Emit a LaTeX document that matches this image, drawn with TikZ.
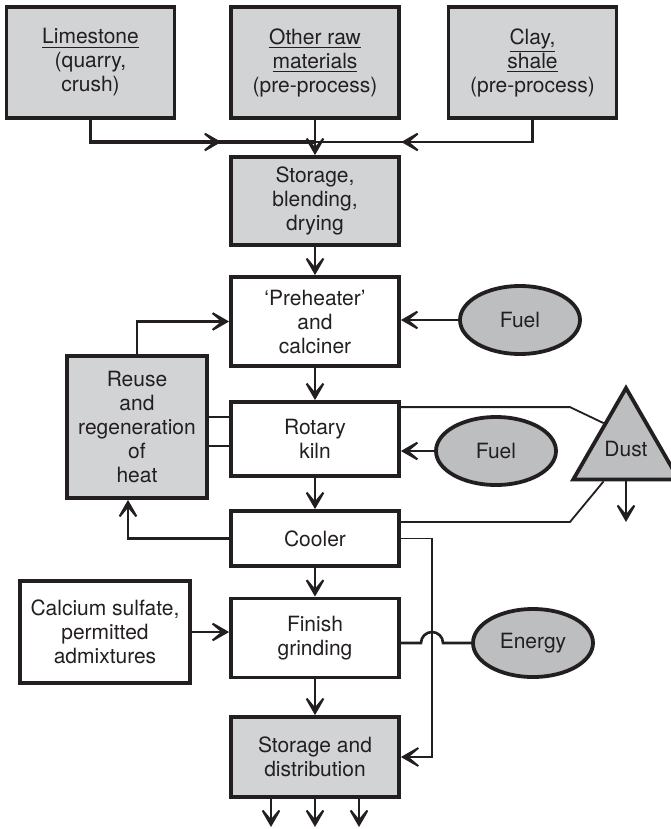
\documentclass[tikz,border=0pt]{standalone}
\usepackage{fontspec}
\setmainfont{TeX Gyre Heros}
\usepackage{tikz}
\usetikzlibrary{calc,arrows.meta,shapes.geometric,decorations.markings}
\tikzset{>={Stealth[length=13pt,width=15pt,inset=9pt]}}
\definecolor{boxgray}{HTML}{D1D3D4}
\definecolor{ovalgray}{HTML}{BCBEC0}
\definecolor{ink}{HTML}{231F20}

\begin{document}
\begin{tikzpicture}
  [
   x=0.5pt, y=-0.5pt, % 以像素为单位, y 向下
   every node/.style={font=\fontsize{10.5}{12}\selectfont, align=center, inner sep=2pt, text=ink},
   box/.style={draw=ink, line width=1.9pt, rectangle, minimum width=84pt},
   graybox/.style={box, fill=boxgray},
   oval/.style={draw=ink, line width=1.9pt, ellipse, fill=ovalgray, minimum width=60pt, minimum height=34pt, inner sep=0pt},
   flow/.style={draw=ink, line width=1.3pt, ->},
   link/.style={draw=ink, line width=1.3pt},
   thinlink/.style={draw=ink, line width=0.9pt},
   midarrow/.style={postaction={decorate}, decoration={markings, mark=at position #1 with {\arrow{>}}}}
  ]
  \useasboundingbox (0,0) rectangle (670,829);

  % 原料
  \node[graybox, minimum height=55.5pt] (lime)  at (90.5,62.5) {\underline{Limestone}\\(quarry,\\crush)};
  \node[graybox, minimum height=55.5pt] (other) at (315,62.5)  {\underline{Other raw}\\\underline{materials}\\(pre-process)};
  \node[graybox, minimum height=55.5pt] (clay)  at (532.5,62.5) {\underline{Clay,}\\\underline{shale}\\(pre-process)};

  % 主流程
  \node[graybox, minimum height=44pt]   (stor1) at (315,201)   {Storage,\\blending,\\drying};
  \node[box, minimum height=44.5pt]     (preh)  at (315,321.5) {‘Preheater’\\and\\calciner};
  \node[box, minimum height=37pt]       (kiln)  at (315,439)   {Rotary\\kiln};
  \node[box, minimum height=27.5pt]     (cool)  at (315,538.5) {Cooler};
  \node[box, minimum height=39.5pt]     (fin)   at (315,638)   {Finish\\grinding};
  \node[graybox, minimum height=40pt]   (stor2) at (315,757)   {Storage and\\distribution};

  \node[graybox, minimum width=70pt, minimum height=71pt] (reuse) at (137,427) {Reuse\\and\\regeneration\\of\\heat};
  \node[box, minimum width=85pt, minimum height=51pt]     (calc)  at (105,632) {Calcium sulfate,\\permitted\\admixtures};

  \node[oval] (fuel1)  at (520,320) {Fuel};
  \node[oval] (fuel2)  at (496,451) {Fuel};
  \node[oval] (energy) at (533,643) {Energy};
  \node[draw=ink, line width=1.9pt, fill=ovalgray, regular polygon, regular polygon sides=3,
        minimum size=57.7pt, inner sep=0pt] (dust) at (626,449) {Dust};

  % 汇合
  \coordinate (join) at (315,142);
  \draw[link, line width=1.6pt, midarrow=0.62] (lime.south) |- (join);
  \draw[link, midarrow=0.64] (clay.south) |- (join);

  \foreach \a/\b in {other/stor1, stor1/preh, preh/kiln, kiln/cool, cool/fin, fin/stor2}
    \draw[flow] (\a.south) -- (\b.north);

  \draw[flow] (fuel1.west) -- (fuel1.west -| preh.east);
  \draw[flow] (fuel2.west) -- (fuel2.west -| kiln.east);
  \draw[flow] (calc.east) -- (calc.east -| fin.west);

  % 热回收
  \draw[flow] (reuse.north) |- (preh.west);
  \draw[flow] (cool.west) -| ([xshift=-4.5pt]reuse.south);
  \coordinate (k1) at ([yshift=11pt]kiln.west);
  \coordinate (k2) at ([yshift=-3.5pt]kiln.west);
  \foreach \k in {k1,k2}
    \draw[link] (\k) -- (\k -| reuse.east);

  % 粉尘
  \coordinate (k3) at ([yshift=-3.5pt]kiln.north east);
  \coordinate (c1) at ([yshift=8.25pt]cool.east);
  \draw[thinlink] (k3) -- (k3 -| dust.corner 2) -- ($(dust.corner 1)!0.4!(dust.corner 2)$);
  \draw[thinlink] (c1) -- (c1 -| dust.corner 2) -- ($(dust.corner 2)!0.3!(dust.corner 3)$);
  \coordinate (dustout) at (626,522);
  \draw[flow] (dust.side 2) -- (dustout);

  % 旁路和跨线
  \coordinate (bypass) at (432,538.5);
  \draw[thinlink, ->] (cool.east) -- (bypass) |- (stor2.east);
  \coordinate (hop) at (bypass |- energy.west);
  \draw[link] (energy.west) -- ([xshift=5.5pt]hop) arc[start angle=0, end angle=180, radius=5.5pt] -- (hop -| fin.east);

  % 出厂
  \foreach \x [count=\i] in {271,315,359}
  {
    \coordinate (out\i) at (\x,827);
    \draw[flow] (out\i |- stor2.south) -- (out\i);
  }
\end{tikzpicture}
\end{document}
